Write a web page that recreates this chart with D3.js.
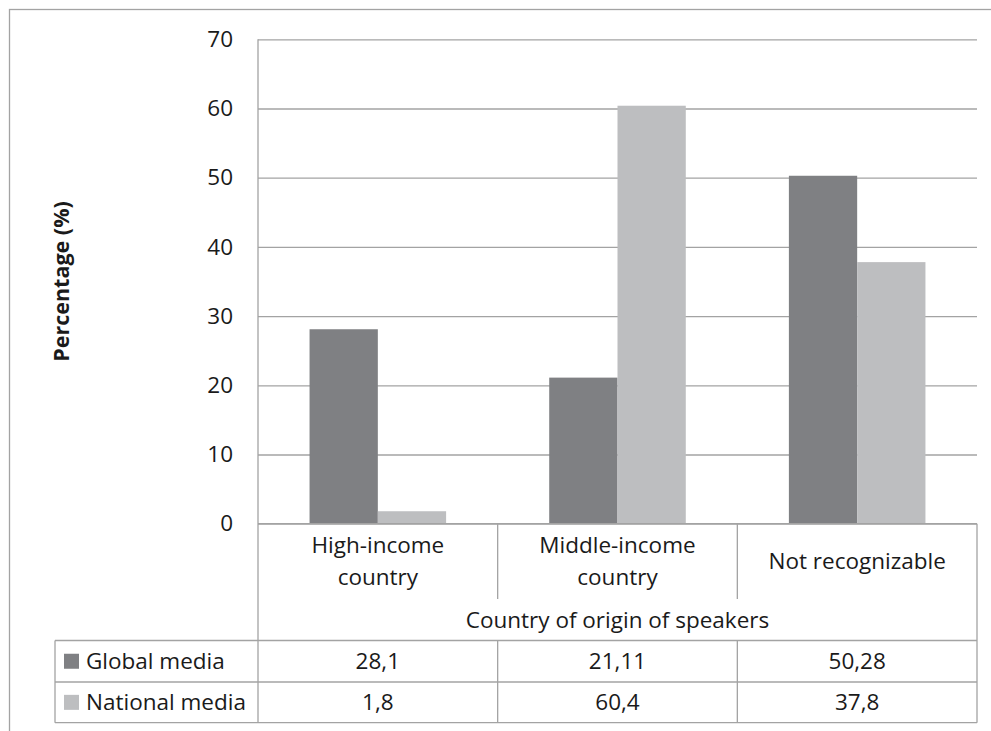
<!DOCTYPE html>
<html><head><meta charset="utf-8">
<script src="https://cdn.jsdelivr.net/npm/d3@7"></script>
<style>
body{margin:0;background:#fff}
svg{display:block}
text{font-family:"Open Sans",sans-serif;fill:#1a1a1a}
</style>
</head><body>
<svg id="c" width="991" height="731"></svg>
<script>
// ---- data ----
const categories = ["High-income country", "Middle-income country", "Not recognizable"];
const categoryLines = [["High-income", "country"], ["Middle-income", "country"], ["Not recognizable"]];
const seriesNames = ["Global media", "National media"];
const globalMedia = [28.1, 21.11, 50.28];
const nationalMedia = [1.8, 60.4, 37.8];
const yTicks = [0, 10, 20, 30, 40, 50, 60, 70];
const xAxisTitle = "Country of origin of speakers";
const yAxisTitle = "Percentage (%)";

// ---- style / layout ----
const colors = ["#7f8083", "#bdbec0"];
const lineColor = "#a3a3a3";
const fs = 22.5;
const L = 258, R = 977, T = 39.3, B = 523.7;
const labelBottom = 599, titleBottom = 640.5, row1Bottom = 682, row2Bottom = 722.7;
const legendLeft = 55;

const svg = d3.select("#c");
const series = [globalMedia, nationalMedia];

// outer frame
svg.append("rect").attr("x", 9.5).attr("y", 9.5).attr("width", 1100).attr("height", 1100)
  .attr("fill", "none").attr("stroke", lineColor).attr("stroke-width", 1.3);

const y = d3.scaleLinear().domain([0, 70]).range([B, T]);
const x0 = d3.scaleBand().domain(categories).range([L, R]).padding(0);
const x1 = d3.scaleBand().domain(seriesNames).range([0, x0.bandwidth()]).paddingInner(0).paddingOuter(0.755);

// y axis with gridlines
const ya = svg.append("g").attr("transform", `translate(${L},0)`)
  .call(d3.axisLeft(y).tickValues(yTicks).tickSize(-(R - L)).tickPadding(25).tickFormat(d3.format("d")));
ya.select(".domain").remove();
ya.selectAll(".tick line").attr("stroke", lineColor).attr("stroke-width", 1.3);
ya.selectAll(".tick text").attr("font-size", fs).attr("font-family", "Open Sans, sans-serif").attr("fill", "#1a1a1a");

// bars
categories.forEach((c, i) => {
  series.forEach((s, j) => {
    svg.append("rect")
      .attr("x", x0(c) + x1(seriesNames[j]))
      .attr("y", y(s[i]))
      .attr("width", x1.bandwidth())
      .attr("height", y(0) - y(s[i]))
      .attr("fill", colors[j]);
  });
});

// table lines
const line = (x1_, y1_, x2_, y2_) => svg.append("line")
  .attr("x1", x1_).attr("y1", y1_).attr("x2", x2_).attr("y2", y2_)
  .attr("stroke", lineColor).attr("stroke-width", 1.3);

line(L, B, R, B);
line(L, T, L, row2Bottom);
line(R, B, R, row2Bottom);
categories.slice(1).forEach(c => line(x0(c), B, x0(c), labelBottom));
categories.slice(1).forEach(c => line(x0(c), titleBottom, x0(c), row2Bottom));
line(legendLeft, titleBottom, R, titleBottom);
line(legendLeft, row1Bottom, R, row1Bottom);
line(legendLeft, row2Bottom, R, row2Bottom);
line(legendLeft, titleBottom, legendLeft, row2Bottom);

// category labels
const lh = 32;
categories.forEach((c, i) => {
  const lines = categoryLines[i];
  const cy = (B + labelBottom) / 2;
  lines.forEach((t, k) => {
    svg.append("text")
      .attr("x", x0(c) + x0.bandwidth() / 2)
      .attr("y", cy + (k - (lines.length - 1) / 2) * lh)
      .attr("dy", "0.35em")
      .attr("text-anchor", "middle")
      .attr("font-size", fs)
      .text(t);
  });
});

// x axis title
svg.append("text").attr("x", (L + R) / 2).attr("y", (labelBottom + titleBottom) / 2)
  .attr("dy", "0.35em").attr("text-anchor", "middle").attr("font-size", fs).text(xAxisTitle);

// y axis title
svg.append("text").attr("transform", `translate(61,${(T + B) / 2}) rotate(-90)`)
  .attr("dy", "0.35em").attr("text-anchor", "middle").attr("font-size", 21.5).attr("font-weight", "bold")
  .text(yAxisTitle);

// data table rows
const rows = [[titleBottom, row1Bottom], [row1Bottom, row2Bottom]];
const fmt = v => String(v).replace(".", ",");
series.forEach((s, j) => {
  const cy = (rows[j][0] + rows[j][1]) / 2;
  svg.append("rect").attr("x", 64).attr("y", cy - 7.5).attr("width", 15).attr("height", 15).attr("fill", colors[j]);
  svg.append("text").attr("x", 86).attr("y", cy).attr("dy", "0.35em").attr("font-size", fs).text(seriesNames[j]);
  categories.forEach((c, i) => {
    svg.append("text").attr("x", x0(c) + x0.bandwidth() / 2).attr("y", cy)
      .attr("dy", "0.35em").attr("text-anchor", "middle").attr("font-size", fs).text(fmt(s[i]));
  });
});
</script>
</body></html>
